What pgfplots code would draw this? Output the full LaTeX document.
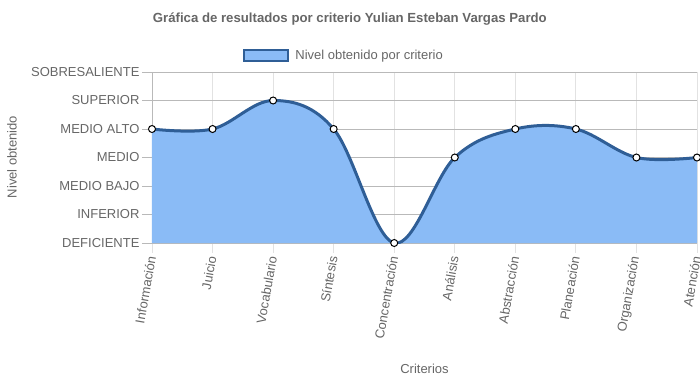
\documentclass[border=0pt]{standalone}
\usepackage{pgfplots}
\pgfplotsset{compat=1.18}
\usepackage{fontspec}
\setmainfont{Liberation Sans}
\definecolor{fillblue}{RGB}{138,187,246}
\definecolor{lineblue}{RGB}{47,94,150}
\definecolor{txt}{RGB}{102,102,102}
\definecolor{hgrid}{RGB}{185,185,185}
\definecolor{vgrid}{RGB}{226,226,226}
\begin{document}
\begin{tikzpicture}
\useasboundingbox (-152pt,-139pt) rectangle (548pt,243pt);
\begin{axis}[
  at={(0pt,0pt)}, anchor=south west,
  scale only axis, width=545pt, height=171pt,
  xmin=0, xmax=9, ymin=0, ymax=6,
  xtick={0,...,9},
  xticklabels={Información,Juicio,Vocabulario,Síntesis,Concentración,Análisis,Abstracción,Planeación,Organización,Atención},
  ytick={0,...,6},
  yticklabels={DEFICIENTE,INFERIOR,MEDIO BAJO,MEDIO,MEDIO ALTO,SUPERIOR,SOBRESALIENTE},
  axis x line*=bottom, axis y line*=left,
  x axis line style={draw=hgrid, line width=1pt, -},
  y axis line style={draw=hgrid, line width=0.8pt, -},
  grid=major,
  major x grid style={draw=vgrid, line width=0.8pt},
  major y grid style={draw=hgrid, line width=0.8pt},
  tick align=outside, major tick length=10pt,
  x tick style={draw=vgrid, line width=0.8pt},
  y tick style={draw=hgrid, line width=0.8pt},
  tick label style={font=\fontsize{13}{15}\selectfont, text=txt},
  yticklabel style={anchor=east, xshift=1pt},
  xticklabel style={rotate=80, anchor=east},
  title={Gráfica de resultados por criterio Yulian Esteban Vargas Pardo},
  title style={at={(0.363,1.275)}, anchor=center, font=\bfseries\fontsize{13.2}{15}\selectfont, text=txt},
  xlabel={Criterios},
  xlabel style={at={(0.5,-0.737)}, anchor=center, font=\fontsize{13}{15}\selectfont, text=txt},
  ylabel={Nivel obtenido},
  ylabel style={at={(-0.257,0.503)}, anchor=center, rotate=0, font=\fontsize{13}{15}\selectfont, text=txt},
  legend style={at={(0.352,1.097)}, anchor=center, draw=none, fill=none, font=\fontsize{13}{15}\selectfont, text=txt},
  legend image code/.code={\draw[line width=2.5pt,draw=lineblue,fill=fillblue] (0pt,-5.5pt) rectangle (44pt,5.5pt);},
]
\addplot[draw=none, fill=fillblue, smooth, tension=0.6, forget plot] coordinates {
  (0,4) (1,4) (2,5) (3,4) (4,0) (5,3) (6,4) (7,4) (8,3) (9,3)} \closedcycle;
\addplot[lineblue, line width=3pt, smooth, tension=0.6, mark=*, mark size=3.5pt,
  mark options={fill=white, draw=black, line width=1pt, solid}] coordinates {
  (0,4) (1,4) (2,5) (3,4) (4,0) (5,3) (6,4) (7,4) (8,3) (9,3)};
\addlegendentry{\hspace{4pt}Nivel obtenido por criterio}
\end{axis}
\end{tikzpicture}
\end{document}
